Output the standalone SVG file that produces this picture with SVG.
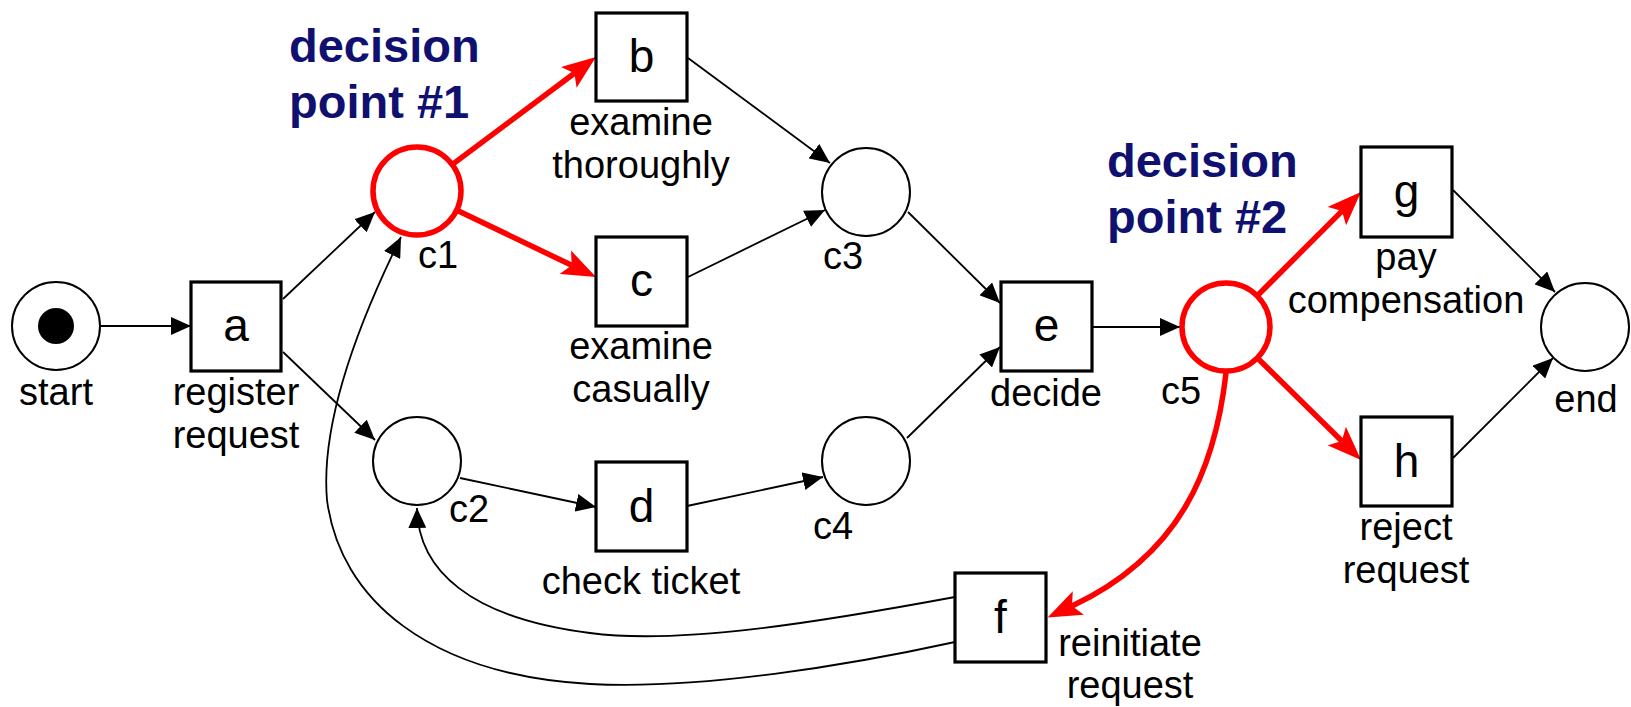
<svg xmlns="http://www.w3.org/2000/svg" width="1631" height="707" viewBox="0 0 1631 707">
<style>
.place{fill:#fff;stroke:#000;stroke-width:2}
.dp{fill:#fff;stroke:#f00;stroke-width:5.5}
.tr{fill:#fff;stroke:#000;stroke-width:3.2}
.arc{fill:none;stroke:#000;stroke-width:1.8}
.red{fill:none;stroke:#f00;stroke-width:5.5}
.lt{font-family:"Liberation Sans",Arial,sans-serif;font-size:46px;fill:#000;text-anchor:middle}
.lab{font-family:"Liberation Sans",Arial,sans-serif;font-size:38px;fill:#000}
.mid{text-anchor:middle}
.dec{font-family:"Liberation Sans",Arial,sans-serif;font-size:47px;font-weight:bold;fill:#101070}
</style>
<defs>
<marker id="ab" markerUnits="userSpaceOnUse" viewBox="0 0 20 18" refX="20" refY="9" markerWidth="20" markerHeight="18" orient="auto"><path d="M0,0 L20,9 L0,18 z" fill="#000"/></marker>
<marker id="ar" markerUnits="userSpaceOnUse" viewBox="0 0 34 26" refX="7" refY="13" markerWidth="34" markerHeight="26" orient="auto"><path d="M0,0 L34,13 L0,26 L7,13 z" fill="#f00"/></marker>
</defs>
<g id="connectors">
<path class="arc" d="M101,326 L191,326" marker-end="url(#ab)"/>
<path class="arc" d="M283,299 L375,212" marker-end="url(#ab)"/>
<path class="arc" d="M283,352 L375,440" marker-end="url(#ab)"/>
<path class="arc" d="M460,478 L596,507" marker-end="url(#ab)"/>
<path class="arc" d="M687,506 L823,477" marker-end="url(#ab)"/>
<path class="arc" d="M688,58 L830,163" marker-end="url(#ab)"/>
<path class="arc" d="M688,277 L825,210" marker-end="url(#ab)"/>
<path class="arc" d="M908,212 L1000,303" marker-end="url(#ab)"/>
<path class="arc" d="M907,438 L1000,347" marker-end="url(#ab)"/>
<path class="arc" d="M1092,327 L1180,327" marker-end="url(#ab)"/>
<path class="arc" d="M1453,190 L1555,292" marker-end="url(#ab)"/>
<path class="arc" d="M1453,458 L1553,358" marker-end="url(#ab)"/>
<path class="arc" d="M955,597 C820,622 680,645 590,633 C470,618 418,570 417,508" marker-end="url(#ab)"/>
<path class="arc" d="M955,642 C850,665 700,690 590,684 C430,675 340,600 327,500 C320,420 360,320 401,237" marker-end="url(#ab)"/>
<path class="red" d="M453.8,163.4 L574.4,73.2" marker-end="url(#ar)"/>
<path class="red" d="M458.5,210.9 L571.7,265.3" marker-end="url(#ar)"/>
<path class="red" d="M1258.5,294.5 L1341.9,211.1" marker-end="url(#ar)"/>
<path class="red" d="M1258.7,359.3 L1341.8,441" marker-end="url(#ar)"/>
<path class="red" d="M1226,373 C1215,470 1180,555 1072,606" marker-end="url(#ar)"/>
</g>
<g id="start">
<circle class="place" cx="56" cy="326" r="44"/>
<circle cx="56" cy="326" r="18" fill="#000"/>
<text class="lab mid" x="56" y="405">start</text>
</g>
<g id="a">
<rect class="tr" x="191" y="282" width="90" height="89"/>
<text class="lt" x="236" y="341">a</text>
<text class="lab mid" x="236" y="405">register</text>
<text class="lab mid" x="236" y="448">request</text>
</g>
<g id="c1">
<circle class="dp" cx="417" cy="191" r="44"/>
<text class="lab" x="418" y="268">c1</text>
</g>
<g id="b">
<rect class="tr" x="596" y="13" width="91" height="88"/>
<text class="lt" x="641.5" y="72">b</text>
<text class="lab mid" x="641" y="135">examine</text>
<text class="lab mid" x="641" y="178">thoroughly</text>
</g>
<g id="c">
<rect class="tr" x="596" y="237" width="91" height="89"/>
<text class="lt" x="641.5" y="296">c</text>
<text class="lab mid" x="641" y="359">examine</text>
<text class="lab mid" x="641" y="402">casually</text>
</g>
<g id="c2">
<circle class="place" cx="417" cy="461" r="44"/>
<text class="lab" x="449" y="522">c2</text>
</g>
<g id="d">
<rect class="tr" x="596" y="462" width="91" height="89"/>
<text class="lt" x="641.5" y="522">d</text>
<text class="lab mid" x="641" y="594">check ticket</text>
</g>
<g id="c3">
<circle class="place" cx="866" cy="192" r="44"/>
<text class="lab" x="823" y="269">c3</text>
</g>
<g id="c4">
<circle class="place" cx="866" cy="461" r="44"/>
<text class="lab" x="813" y="539">c4</text>
</g>
<g id="e">
<rect class="tr" x="1001" y="282" width="91" height="89"/>
<text class="lt" x="1046.5" y="341">e</text>
<text class="lab mid" x="1046" y="406">decide</text>
</g>
<g id="c5">
<circle class="dp" cx="1226" cy="327" r="44"/>
<text class="lab" x="1161" y="404">c5</text>
</g>
<g id="g">
<rect class="tr" x="1361" y="147" width="91" height="90"/>
<text class="lt" x="1406.5" y="207">g</text>
<text class="lab mid" x="1406" y="270">pay</text>
<text class="lab mid" x="1406" y="313">compensation</text>
</g>
<g id="h">
<rect class="tr" x="1361" y="417" width="91" height="89"/>
<text class="lt" x="1406.5" y="477">h</text>
<text class="lab mid" x="1406" y="540">reject</text>
<text class="lab mid" x="1406" y="583">request</text>
</g>
<g id="end">
<circle class="place" cx="1585" cy="327" r="44"/>
<text class="lab mid" x="1586" y="412">end</text>
</g>
<g id="f">
<rect class="tr" x="955" y="573" width="91" height="89"/>
<text class="lt" x="1000.5" y="633">f</text>
<text class="lab mid" x="1130" y="656">reinitiate</text>
<text class="lab mid" x="1130" y="698">request</text>
</g>
<g id="decision1">
<text class="dec" x="289" y="62">decision</text>
<text class="dec" x="289" y="118">point #1</text>
</g>
<g id="decision2">
<text class="dec" x="1107" y="177">decision</text>
<text class="dec" x="1107" y="233">point #2</text>
</g>
</svg>
